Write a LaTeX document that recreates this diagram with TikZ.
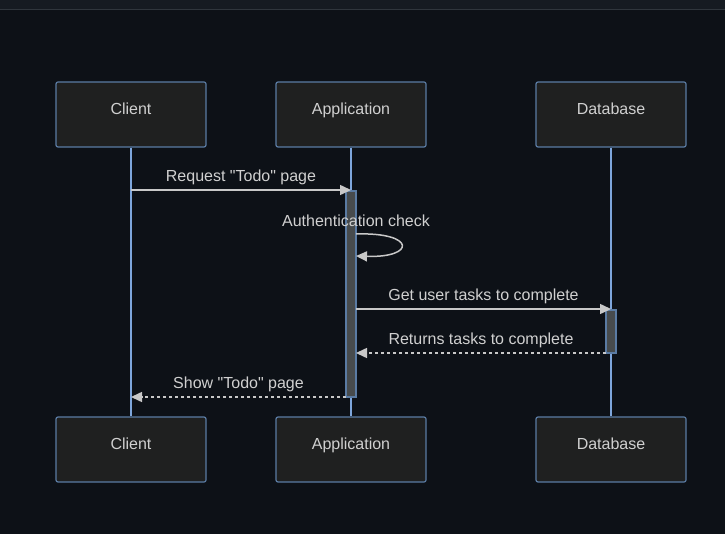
\documentclass[tikz,border=0pt]{standalone}
\usepackage{fontspec}
\setmainfont{Liberation Sans}[Ligatures=TeXOff]
\usetikzlibrary{arrows.meta}
\usetikzlibrary{calc}
\usepackage{xcolor}

\definecolor{bgdark}{HTML}{0D1117}
\definecolor{bandtop}{HTML}{161B22}
\definecolor{bandline}{HTML}{30363D}
\definecolor{boxfill}{HTML}{1F2020}
\definecolor{boxline}{HTML}{5A7BA3}
\definecolor{lifeline}{HTML}{7EA6DC}
\definecolor{barfill}{HTML}{474B4D}
\definecolor{msgline}{HTML}{C8C8C8}
\definecolor{msgtext}{HTML}{D0D0D0}

\tikzset{
    actor/.style={draw=boxline, fill=boxfill, line width=1.2pt, rounded corners=2pt,
        minimum width=150pt, minimum height=65pt, text height=12pt, text depth=12pt,
        text=msgtext, font=\fontsize{16}{19}\selectfont},
    life/.style={lifeline, line width=1.5pt},
    actbar/.style={draw=boxline, fill=barfill, line width=1.2pt},
    msg/.style={msgline, line width=1.5pt, -{Triangle[length=11pt, width=10pt]}},
    reply/.style={msg, dash pattern=on 3pt off 3pt},
    lbl/.style={text=msgtext, font=\fontsize{16}{19}\selectfont}
}

\begin{document}
\begin{tikzpicture}[x=1pt, y=-1pt]
        \fill[bgdark] (0,0) rectangle (725,534);
        \useasboundingbox (0,0) rectangle (725,534);
        \fill[bandtop] (0,0) rectangle (725,9);
        \draw[bandline, line width=1.2pt] (0,9.5) -- (725,9.5);

        % participants
        \node[actor] (C) at (131,114.5) {Client};
        \node[actor] (A) at (351,114.5) {Application};
        \node[actor] (D) at (611,114.5) {Database};
        \node[actor] (Cb) at (131,449.5) {Client};
        \node[actor] (Ab) at (351,449.5) {Application};
        \node[actor] (Db) at (611,449.5) {Database};

        \draw[life] (C.south) -- (Cb.north);
        \draw[life] (A.south) -- (Ab.north);
        \draw[life] (D.south) -- (Db.north);

        % activations
        \draw[actbar] (346,191) rectangle (356,397);
        \draw[actbar] (606,310) rectangle (616,353);

        \coordinate (C1) at (131,190);
        \coordinate (A1) at (351,190);
        \coordinate (A2) at (356,234);
        \coordinate (A3) at (356,256);
        \coordinate (A4) at (356,309);
        \coordinate (D4) at (611,309);
        \coordinate (D5) at (606,353);
        \coordinate (A5) at (356,353);
        \coordinate (A6) at (346,397);
        \coordinate (C6) at (131,397);

        \draw[msg] (C1) -- (A1) node[midway, above=1pt, lbl] {Request "Todo" page};
        \draw[msg] (A2) .. controls (416,232) and (416,258) .. (A3);
        \node[lbl] (auth) at (356,221) {Authentication check};
        \draw[msg] (A4) -- (D4) node[midway, above=1pt, lbl] {Get user tasks to complete};
        \draw[reply] (D5) -- (A5) node[midway, above=1pt, lbl] {Returns tasks to complete};
        \draw[reply] (A6) -- (C6) node[midway, above=1pt, lbl] {Show "Todo" page};
    \end{tikzpicture}
\end{document}
